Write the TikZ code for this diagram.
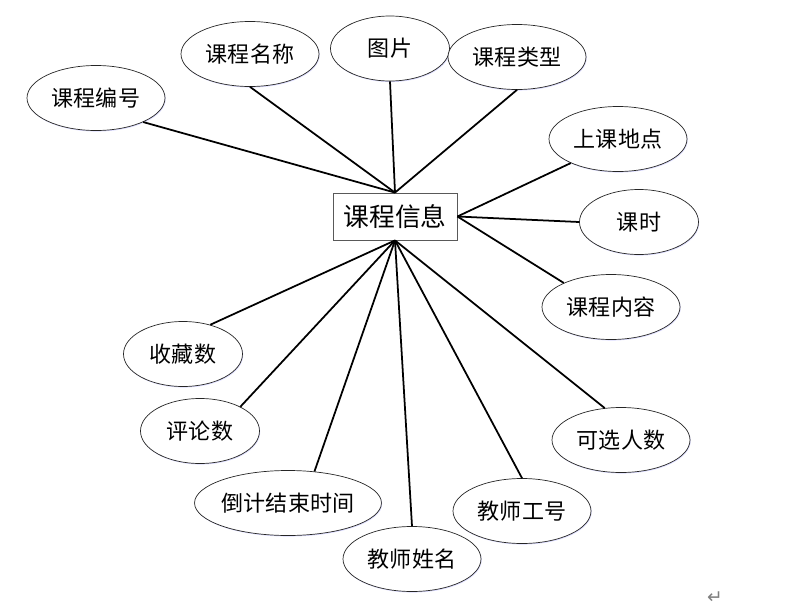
\documentclass[tikz,border=0pt]{standalone}
\usepackage{fontspec}
\newfontfamily\cjk{Noto Sans CJK SC}
\newfontfamily\symfont{DejaVu Sans}
\usepackage{tikz}
\usetikzlibrary{shapes.geometric, shadows}

\begin{document}
\begin{tikzpicture}[x=0.03cm, y=-0.03cm,
    attr/.style={ellipse, draw=black!85, line width=0.6pt, fill=white,
        minimum width=3.57cm, minimum height=1.95cm, inner sep=0pt,
        font=\cjk\fontsize{18.8}{21}\selectfont,
        drop shadow={shadow xshift=0.6pt, shadow yshift=-0.9pt, fill=blue!30, opacity=0.45}},
    wide/.style={minimum width=4.14cm},
    wider/.style={minimum width=5.52cm},
    entity/.style={rectangle, draw=black!65, line width=0.7pt, fill=white,
        minimum width=3.72cm, minimum height=1.41cm, inner sep=0pt,
        font=\cjk\fontsize{22}{25}\selectfont,
        drop shadow={shadow xshift=0.6pt, shadow yshift=-0.9pt, fill=blue!30, opacity=0.45}},
    link/.style={line width=1.5pt, black}]
    \useasboundingbox (0, 0) rectangle (800, 612);

    % Entity
    \node[entity] (info) at (395, 216.5) {课程信息};

    % Attributes above
    \node[attr, wide] (code) at (96, 98) {课程编号};
    \node[attr, wide] (name) at (250, 54) {课程名称};
    \node[attr] (pic) at (390, 48.5) {图片};
    \node[attr, wide] (type) at (517, 57) {课程类型};

    % Attributes to the right
    \node[attr, wide] (place) at (618, 139) {上课地点};
    \node[attr] (hours) at (639, 222) {课时};
    \node[attr, wide] (content) at (611, 307) {课程内容};

    % Attributes below
    \node[attr] (fav) at (183, 354) {收藏数};
    \node[attr] (cmt) at (200, 431) {评论数};
    \node[attr, wider] (end) at (288, 503) {倒计结束时间};
    \node[attr, wide] (tname) at (412, 559) {教师姓名};
    \node[attr, wide] (tid) at (522, 511) {教师工号};
    \node[attr, wide] (seats) at (621, 440) {可选人数};

    % Links
    \draw[link] (info.north) -- (code.-27);
    \draw[link] (info.north) -- (name.south);
    \draw[link] (info.north) -- (pic.south);
    \draw[link] (info.north) -- (type.south);
    \draw[link] (info.east) -- (place.-153);
    \draw[link] (info.east) -- (hours.west);
    \draw[link] (info.east) -- (content.153);
    \draw[link] (info.south) -- (fav.47);
    \draw[link] (info.south) -- (cmt.31);
    \draw[link] (info.south) -- (end.50);
    \draw[link] (info.south) -- (tname.north);
    \draw[link] (info.south) -- (tid.north);
    \draw[link] (info.south) -- (seats.117);

    % Paragraph mark
    \node[gray, font=\symfont\fontsize{16}{18}\selectfont] (mark) at (715, 598) {↵};
\end{tikzpicture}
\end{document}
